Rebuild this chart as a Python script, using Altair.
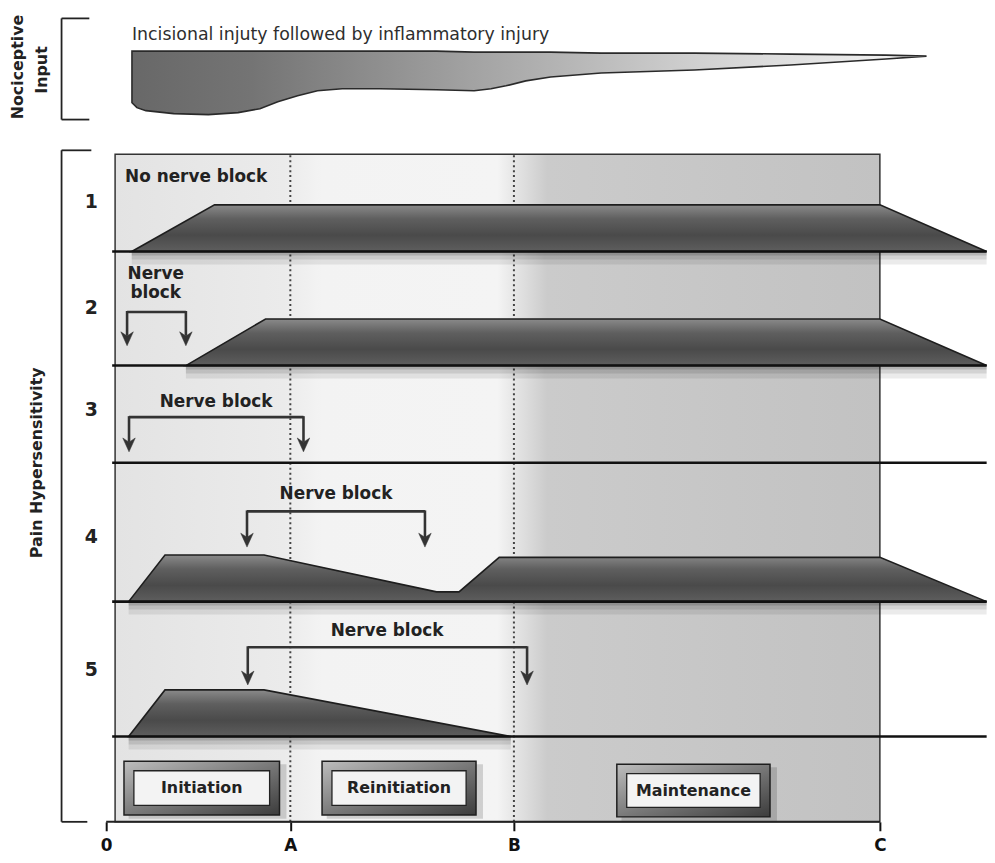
import altair as alt
import pandas as pd

# ---------------- data ----------------
# time axis: t = 0 at onset, C = 100
tick_values = [0.0, 23.8, 52.7, 100.0]
tick_labels = ["0", "A", "B", "C"]
t_end = 113.8            # right end of drawn traces

# tracks (pain hypersensitivity scenarios)
track_names = ["1", "2", "3", "4", "5"]

# hypersensitivity profiles: time and level (0..1)
p1_t = [3.3, 14.0, 100.0, 113.8]
p1_l = [0, 1, 1, 0]
p2_t = [10.3, 20.6, 100.0, 113.8]
p2_l = [0, 1, 1, 0]
p4_t = [2.9, 7.6, 20.4, 42.7, 45.6, 50.8, 100.0, 113.8]
p4_l = [0, 1, 1, 0.21, 0.21, 0.95, 0.95, 0]
p5_t = [2.9, 7.6, 20.4, 52.3]
p5_l = [0, 1, 1, 0]

# nerve blocks: track, start, end
block_track = ["2", "3", "4", "5"]
block_start = [2.7, 2.95, 18.2, 18.3]
block_end = [10.3, 25.5, 41.2, 54.4]

# nociceptive input (time, upper edge, lower edge)
noci_t = [3.33, 3.97, 5.13, 8.72, 13.2, 17.05, 19.87, 22.18, 24.74, 27.31, 30.51, 35.38,
          42.69, 47.56, 49.74, 51.67, 54.23, 57.44, 63.97, 76.03, 88.46, 100.77, 106.03]
noci_top = [777, 777, 777, 777, 777, 777, 777, 777, 777, 777, 777, 777,
            777, 776, 776, 776, 776, 776, 775, 775, 774, 773, 772]
noci_bot = [725, 720, 717, 714, 713, 715, 719, 726, 732, 737, 739, 739,
            738, 737, 739, 742, 747, 751, 755, 758, 763, 769, 772]

# phases
phase_names = ["Initiation", "Reinitiation", "Maintenance"]
phase_start = [2.3, 27.9, 66.0]
phase_end = [22.4, 47.8, 85.8]

# ---------------- layout ----------------
track_base = {"1": 575, "2": 460, "3": 362, "4": 222, "5": 86}
band_h = 47
panel_left, panel_top = 1.15, 673
W, H = 987, 817
x_lo, x_hi = -12.692, 113.846

FONT = "DejaVu Sans"
xs = alt.Scale(domain=[x_lo, x_hi], nice=False, zero=False)
ys = alt.Scale(domain=[0, H], nice=False, zero=False)
label_expr = " : ".join(
    [f"datum.value == {v} ? '{l}'" for v, l in zip(tick_values, tick_labels)]) + " : ''"
xaxis = alt.Axis(values=tick_values, labelExpr=label_expr, title=None, grid=False,
                 domain=False, ticks=True, tickSize=9, tickWidth=2, tickColor="#111",
                 labelFont=FONT, labelFontWeight="bold", labelFontSize=17,
                 labelColor="#111", labelPadding=7, labelAngle=0)


def X(f):
    return alt.X(f, type="quantitative", scale=xs, axis=xaxis)


def Y(f):
    return alt.Y(f, type="quantitative", scale=ys, axis=None)


def grad(stops, x2=0, y2=1):
    return alt.LinearGradient(gradient="linear", x1=0, y1=0, x2=x2, y2=y2,
                              stops=[alt.GradientStop(color=c, offset=o) for o, c in stops])


layers = []

# panel background
bg = pd.DataFrame({"x": [panel_left], "x2": [tick_values[3]], "y": [0], "y2": [panel_top]})
layers.append(alt.Chart(bg).mark_rect(
    fill=grad([(0, "#e3e3e3"), (0.22, "#ebebeb"), (0.27, "#f3f3f3"), (0.5, "#f4f4f4"),
               (0.525, "#e4e4e4"), (0.565, "#cbcbcb"), (1, "#c2c2c2")], x2=1, y2=0),
    stroke="#333", strokeWidth=1.5).encode(x=X("x"), x2="x2", y=Y("y"), y2="y2"))

# dotted lines at A and B
dl = pd.DataFrame({"x": tick_values[1:3], "y": [0, 0], "y2": [panel_top, panel_top]})
layers.append(alt.Chart(dl).mark_rule(stroke="#444", strokeWidth=2, strokeDash=[2, 3]).encode(
    x=X("x"), y=Y("y"), y2="y2"))

# bands
rows = []
for name, ts, ls in [("1", p1_t, p1_l), ("2", p2_t, p2_l), ("4", p4_t, p4_l), ("5", p5_t, p5_l)]:
    b = track_base[name]
    for t, l in zip(ts, ls):
        rows.append({"track": name, "t": t, "top": b + l * band_h, "base": b,
                     "s1": b - 4, "s2": b - 8, "s3": b - 13})
bands = pd.DataFrame(rows)

# soft shadows under bands
for key, op in [("s3", 0.08), ("s2", 0.10), ("s1", 0.14)]:
    layers.append(alt.Chart(bands).mark_area(fill="#000", fillOpacity=op).encode(
        x=X("t"), y=Y("base"), y2=key, detail="track:N"))

layers.append(alt.Chart(bands).mark_area(
    fill=grad([(0, "#8a8a8a"), (0.3, "#5f5f5f"), (0.65, "#4a4a4a"), (1, "#5e5e5e")]),
    stroke="#1e1e1e", strokeWidth=1.6).encode(
    x=X("t"), y=Y("top"), y2="base", detail="track:N"))

# baselines
bl = pd.DataFrame({"x": [0.77] * 5, "x2": [t_end] * 5,
                   "y": [track_base[n] for n in track_names]})
layers.append(alt.Chart(bl).mark_rule(stroke="#111", strokeWidth=2.6).encode(
    x=X("x"), x2="x2", y=Y("y")))

# nociceptive input shape
noci = pd.DataFrame({"t": noci_t, "top": noci_top, "bot": noci_bot})
layers.append(alt.Chart(noci).mark_area(
    fill=grad([(0, "#686868"), (0.15, "#747474"), (0.45, "#a6a6a6"), (0.75, "#d6d6d6"),
               (1, "#f6f6f6")], x2=1, y2=0),
    stroke="#2a2a2a", strokeWidth=1.6).encode(x=X("t"), y=Y("top"), y2="bot"))

# nerve block brackets
bracket_u = {"2": 514, "3": 408, "4": 313, "5": 176}
tip_u = {"2": 480, "3": 373, "4": 277, "5": 138}
hb = pd.DataFrame({"x": block_start, "x2": block_end, "y": [bracket_u[k] for k in block_track]})
layers.append(alt.Chart(hb).mark_rule(stroke="#333", strokeWidth=2.6).encode(
    x=X("x"), x2="x2", y=Y("y")))
vb = pd.DataFrame({"x": block_start + block_end,
                   "y": [bracket_u[k] + 1 for k in block_track] * 2,
                   "y2": [tip_u[k] + 10 for k in block_track] * 2})
layers.append(alt.Chart(vb).mark_rule(stroke="#333", strokeWidth=2.6).encode(
    x=X("x"), y=Y("y"), y2="y2"))
ah = pd.DataFrame({"x": block_start + block_end,
                   "y": [tip_u[k] + 7 for k in block_track] * 2})
layers.append(alt.Chart(ah).mark_point(
    shape="M-0.9,-1 L0,1 L0.9,-1 L0,-0.4 Z", size=196, filled=True, fill="#333",
    stroke="#333", strokeWidth=0.5, opacity=1).encode(x=X("x"), y=Y("y")))

# annotation texts
ann = pd.DataFrame({
    "x": [6.4, 6.4, 14.2, 29.7, 36.3],
    "y": [552, 533, 423, 330, 192],
    "text": ["Nerve", "block", "Nerve block", "Nerve block", "Nerve block"]})
layers.append(alt.Chart(ann).mark_text(font=FONT, fontWeight="bold", fontSize=17,
                                       color="#222", baseline="middle", align="center").encode(
    x=X("x"), y=Y("y"), text="text"))
nb = pd.DataFrame({"x": [2.44], "y": [650], "text": ["No nerve block"]})
layers.append(alt.Chart(nb).mark_text(font=FONT, fontWeight="bold", fontSize=17,
                                      color="#222", baseline="middle", align="left").encode(
    x=X("x"), y=Y("y"), text="text"))

# track numbers
tn = pd.DataFrame({"x": [-1.92] * 5, "y": [625, 518, 415, 287, 153], "text": track_names})
layers.append(alt.Chart(tn).mark_text(font=FONT, fontWeight="bold", fontSize=19,
                                      color="#222", baseline="middle", align="center").encode(
    x=X("x"), y=Y("y"), text="text"))

# title of nociceptive strip
tt = pd.DataFrame({"x": [3.33], "y": [793],
                   "text": ["Incisional injuty followed by inflammatory injury"]})
layers.append(alt.Chart(tt).mark_text(font=FONT, fontSize=17.5, color="#2e2e2e",
                                      baseline="middle", align="left").encode(
    x=X("x"), y=Y("y"), text="text"))

# phase boxes
ph_y = [61, 61, 58]
ph_y2 = [7, 7, 5]
pb = pd.DataFrame({"x": phase_start, "x2": phase_end, "y": ph_y, "y2": ph_y2,
                   "xi": [s + 1.28 for s in phase_start], "xi2": [e - 1.28 for e in phase_end],
                   "yi": [v - 9.5 for v in ph_y], "yi2": [v + 9.5 for v in ph_y2],
                   "xc": [(s + e) / 2 for s, e in zip(phase_start, phase_end)],
                   "yc": [(a + b) / 2 for a, b in zip(ph_y, ph_y2)],
                   "sx": [s + 0.6 for s in phase_start], "sx2": [e + 0.9 for e in phase_end],
                   "sy": [v - 3 for v in ph_y], "sy2": [v - 4 for v in ph_y2],
                   "name": phase_names})
layers.append(alt.Chart(pb).mark_rect(fill="#000", opacity=0.15).encode(
    x=X("sx"), x2="sx2", y=Y("sy"), y2="sy2"))
layers.append(alt.Chart(pb).mark_rect(
    fill=grad([(0, "#bdbdbd"), (0.5, "#7a7a7a"), (1, "#3c3c3c")], x2=1, y2=1),
    stroke="#1e1e1e", strokeWidth=1.5).encode(x=X("x"), x2="x2", y=Y("y"), y2="y2"))
layers.append(alt.Chart(pb).mark_rect(fill="#f3f3f3", stroke="#222", strokeWidth=1.3).encode(
    x=X("xi"), x2="xi2", y=Y("yi"), y2="yi2"))
layers.append(alt.Chart(pb).mark_text(font=FONT, fontWeight="bold", fontSize=16,
                                      color="#222", baseline="middle", align="center").encode(
    x=X("xc"), y=Y("yc"), text="name"))

# side brackets
vr = pd.DataFrame({"x": [-5.77, -5.77], "y": [677, 810], "y2": [0, 708]})
layers.append(alt.Chart(vr).mark_rule(stroke="#222", strokeWidth=1.8).encode(
    x=X("x"), y=Y("y"), y2="y2"))
hr = pd.DataFrame({"x": [-5.77] * 4, "x2": [-1.92, -2.44, -2.18, -2.18],
                   "y": [677, 0, 810, 708]})
layers.append(alt.Chart(hr).mark_rule(stroke="#222", strokeWidth=1.8).encode(
    x=X("x"), x2="x2", y=Y("y")))

# axis line
ax = pd.DataFrame({"x": [tick_values[0]], "x2": [tick_values[3]], "y": [0]})
layers.append(alt.Chart(ax).mark_rule(stroke="#222", strokeWidth=2).encode(
    x=X("x"), x2="x2", y=Y("y")))

# side labels
sl = pd.DataFrame({"x": [-11.4, -8.3, -8.97], "y": [761, 758, 362],
                   "text": ["Nociceptive", "Input", "Pain Hypersensitivity"]})
layers.append(alt.Chart(sl).mark_text(font=FONT, fontWeight="bold", fontSize=16, angle=270,
                                      color="#222", baseline="middle", align="center").encode(
    x=X("x"), y=Y("y"), text="text"))

chart = alt.layer(*layers).properties(
    width=W, height=H,
    autosize=alt.AutoSizeParams(type="none"),
    padding={"left": 0, "right": 0, "top": 0, "bottom": 36},
).configure_view(stroke=None)

chart.save("out.html", embed_options={"renderer": "svg", "actions": False})
